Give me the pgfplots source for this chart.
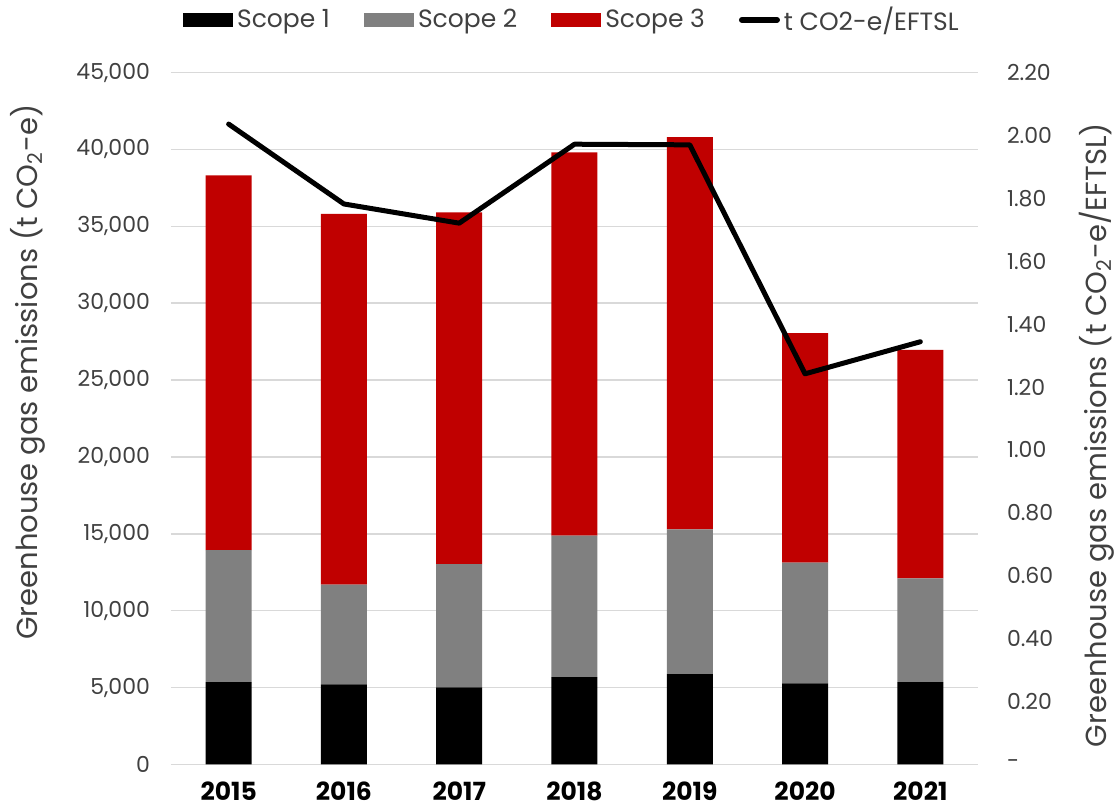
\documentclass[border=0pt]{standalone}
\usepackage{fontspec}
\setmainfont{Poppins}
\usepackage{pgfplots}
\pgfplotsset{compat=1.18}
\definecolor{scopeone}{HTML}{000000}
\definecolor{scopetwo}{HTML}{808080}
\definecolor{scopethree}{HTML}{C00000}
\definecolor{gridgray}{HTML}{D9D9D9}
\definecolor{txtgray}{HTML}{404040}
\pgfplotsset{
  patchleg/.style={legend image code/.code={\fill[##1] (0pt,-3.5pt) rectangle (25pt,3.5pt);}},
  lineleg/.style={legend image code/.code={\draw[##1] (1.5pt,0pt) -- (19pt,0pt);}},
}

\begin{document}
\begin{tikzpicture}
\useasboundingbox (-85.5pt,-21.75pt) rectangle (474pt,382.25pt);
\begin{axis}[
  scale only axis, width=403.5pt, height=346pt,
  ybar stacked, bar width=23pt,
  xmin=-0.5, xmax=6.5, ymin=0, ymax=45000,
  xtick={0,...,6}, xticklabels={2015,2016,2017,2018,2019,2020,2021},
  ytick={0,5000,...,45000}, scaled y ticks=false,
  yticklabels={0,{5,000},{10,000},{15,000},{20,000},{25,000},{30,000},{35,000},{40,000},{45,000}},
  /pgf/number format/assume math mode=true,
  axis line style={draw=none}, major tick length=0pt,
  ymajorgrids, grid style={gridgray, line width=0.75pt},
  xticklabel style={font=\fontsize{12.5}{14}\selectfont\bfseries, text=black, yshift=-5pt},
  yticklabel style={font=\fontsize{11}{13}\selectfont, text=txtgray, xshift=-7pt},
  every axis y label/.style={at={(axis description cs:-0.177,0.567)}, rotate=90, anchor=center},
  ylabel={Greenhouse gas emissions (t CO\textsubscript{2}-e)},
  ylabel style={font=\fontsize{14.5}{16}\selectfont, text=txtgray},
  legend columns=4,
  legend style={at={(0.498,1.076)}, anchor=center, draw=none, fill=none,
    font=\fontsize{12.5}{14}\selectfont, text=txtgray,
    /tikz/every even column/.append style={column sep=15pt}},
]
\addplot[fill=scopeone, draw=none, patchleg]
  coordinates {(0,5364) (1,5214) (2,5019) (3,5689) (4,5884) (5,5280) (6,5364)};
\addplot[fill=scopetwo, draw=none, patchleg]
  coordinates {(0,8583) (1,6476) (2,8017) (3,9187) (4,9408) (5,7841) (6,6742)};
\addplot[fill=scopethree, draw=none, patchleg]
  coordinates {(0,24363) (1,24123) (2,22868) (3,24929) (4,25508) (5,14935) (6,14864)};
\addlegendimage{black, line width=3pt, line cap=round, lineleg}
\legend{Scope 1, Scope 2, Scope 3, t CO2-e/EFTSL}
\end{axis}
\begin{axis}[
  scale only axis, width=403.5pt, height=346pt,
  xmin=-0.5, xmax=6.5, ymin=0, ymax=2.2,
  hide x axis, axis y line*=right,
  axis line style={draw=none}, major tick length=0pt,
  ytick={0,0.2,...,2.21},
  yticklabels={-,0.20,0.40,0.60,0.80,1.00,1.20,1.40,1.60,1.80,2.00,2.20},
  /pgf/number format/assume math mode=true,
  yticklabel style={font=\fontsize{11}{13}\selectfont, text=txtgray, xshift=11pt},
  every axis y label/.style={at={(axis description cs:1.147,0.476)}, rotate=90, anchor=center},
  ylabel={Greenhouse gas emissions (t CO\textsubscript{2}-e/EFTSL)},
  ylabel style={font=\fontsize{14.5}{16}\selectfont, text=txtgray},
]
\addplot[black, line width=2.5pt, line cap=round, line join=round]
  coordinates {(0,2.036) (1,1.782) (2,1.721) (3,1.972) (4,1.970) (5,1.242) (6,1.344)};
\end{axis}
\end{tikzpicture}
\end{document}
